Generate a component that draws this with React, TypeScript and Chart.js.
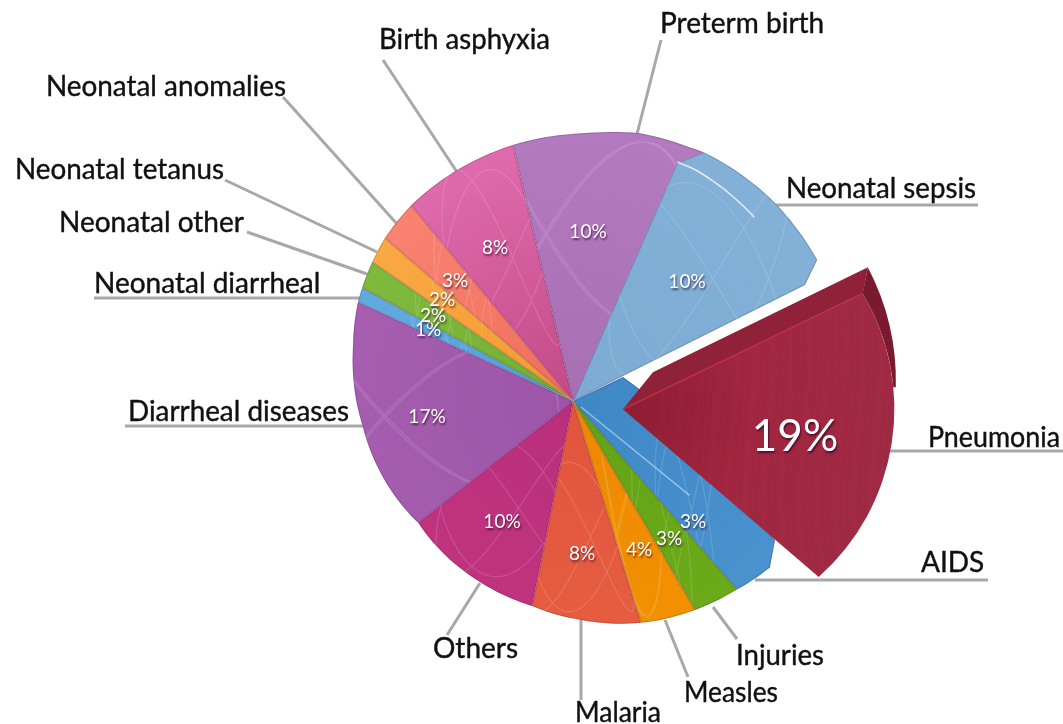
import React, { useEffect, useRef } from "react";
import { Chart, PieController, ArcElement } from "chart.js";

// ---- data ----
const categories = ["AIDS", "Injuries", "Measles", "Malaria", "Others", "Diarrheal diseases", "Neonatal diarrheal", "Neonatal other", "Neonatal tetanus", "Neonatal anomalies", "Birth asphyxia", "Preterm birth", "Neonatal sepsis", "Pneumonia"];
const shares = [3, 3, 4, 8, 10, 17, 1, 2, 2, 3, 8, 10, 10, 19];

// ---- style / layout ----
const innerColours = ["#3f88c6", "#62a214", "#ee8800", "#e2553c", "#b92f7c", "#9c55a8", "#55a0d8", "#74b034", "#f59a32", "#ee6f5c", "#c44a88", "#a86fb4", "#7cabd3", "#8f1d33"];
const outerColours = ["#4a93cf", "#6cab1a", "#f29200", "#e65e42", "#c2357f", "#a85fb2", "#62acdf", "#80bb3e", "#fbaa46", "#fb8472", "#e06cae", "#b47ac0", "#82b0d7", "#a02a44"];
const labelFont = "Lato";
const rotationDeg = 127.9;
const pieCentre = { x: 573, y: 401 };
const sliceOffsets = [0, 0, 0, 0, 0, 0, 0, 0, 0, 0, 0, 0, 0, 50];
// perspective correction (degrees) of the end boundary of each slice
const boundaryWarp = [0.3, 0.2, -0.9, -1.4, 3.1, 4.8, 4.7, 4, 3, 1.7, -0.7, 4.2, 4.5, 0];
// tilted-disc rim: [angle from apex, distance from apex]
const rimProfile: [number, number][] = [[-90, 267], [-84.3, 270], [-76, 276], [-65.7, 279], [-62.3, 281], [-55, 282], [-45, 283], [-30, 282], [40, 258], [50, 249], [59.7, 242], [73, 232], [88, 219], [101.3, 209], [117, 203.5], [141.8, 197], [173.5, 212], [193.8, 226.5], [204.7, 236.7], [220.9, 248.8], [230.4, 254], [256.8, 263], [270, 267]];
const nameLabels = [
  { x: 921, y: 563, w: 66 }, { x: 736, y: 656, w: 88 }, { x: 684, y: 693, w: 94 }, { x: 575, y: 713, w: 86 },
  { x: 433, y: 649, w: 88 }, { x: 128, y: 412, w: 221 }, { x: 94, y: 284, w: 227 }, { x: 59, y: 223, w: 188 },
  { x: 15, y: 170, w: 209 }, { x: 46, y: 87, w: 240 }, { x: 379, y: 40, w: 171 }, { x: 660, y: 24, w: 168 },
  { x: 786, y: 189, w: 190 }, { x: 928, y: 438, w: 132 },
];
const leaders = [
  [988, 580, 755, 580], [737, 639, 713, 607], [688, 677, 665, 620], [581, 700, 581, 618],
  [447, 635, 480, 583], [125, 426, 364, 426], [94, 298, 360, 298], [247, 232, 367, 274],
  [225, 180, 377, 252], [283, 97, 397, 224], [383, 60, 457, 172], [661, 40, 637, 134],
  [978, 205, 772, 205], [1063, 451, 888, 451],
];
const pctLabels = [
  { x: 693, y: 522, s: 19 }, { x: 669, y: 539, s: 19 }, { x: 639, y: 550, s: 19 }, { x: 582, y: 554, s: 19 },
  { x: 502, y: 522, s: 19 }, { x: 427, y: 417, s: 19 }, { x: 428, y: 330, s: 19 }, { x: 433, y: 316, s: 19 },
  { x: 442, y: 300, s: 19 }, { x: 455, y: 281, s: 19 }, { x: 495, y: 248, s: 19 }, { x: 588, y: 232, s: 19 },
  { x: 687, y: 282, s: 19 }, { x: 795, y: 437, s: 44 },
];

const D2R = Math.PI / 180;
function rimAt(deg: number) {
  let t = ((deg + 90) % 360 + 360) % 360 - 90;
  for (let i = 1; i < rimProfile.length; i++) {
    const [a0, r0] = rimProfile[i - 1];
    const [a1, r1] = rimProfile[i];
    if (t <= a1) return r0 + ((r1 - r0) * (t - a0)) / (a1 - a0);
  }
  return rimProfile[rimProfile.length - 1][1];
}
function polar(cx: number, cy: number, deg: number, r: number) {
  return { x: cx + Math.cos(deg * D2R) * r, y: cy + Math.sin(deg * D2R) * r };
}
function traceRim(ctx: CanvasRenderingContext2D, cx: number, cy: number, a: number, b: number) {
  for (let d = a; d < b; d += 1.5) {
    const p = polar(cx, cy, d, rimAt(d));
    ctx.lineTo(p.x, p.y);
  }
  const p = polar(cx, cy, b, rimAt(b));
  ctx.lineTo(p.x, p.y);
}
function scribble(ctx: CanvasRenderingContext2D, cx: number, cy: number, rx: number, ry: number, seed: number) {
  ctx.save();
  ctx.strokeStyle = "rgba(255,255,255,0.13)";
  ctx.lineWidth = 1.3;
  ctx.beginPath();
  for (let k = 0; k <= 400; k++) {
    const t = (k / 400) * Math.PI * 2;
    const x = cx + rx * Math.sin(2 * t + seed);
    const y = cy + ry * Math.sin(3 * t + seed * 0.7);
    if (k === 0) ctx.moveTo(x, y);
    else ctx.lineTo(x, y);
  }
  ctx.stroke();
  ctx.restore();
}

function drawPneumonia(ctx: CanvasRenderingContext2D, arc: any, i: number) {
  const mid = (arc.startAngle + arc.endAngle) / 2;
  const off = sliceOffsets[i];
  const tx = arc.x + Math.cos(mid) * off;
  const ty = arc.y + Math.sin(mid) * off + 5;
  const P = (dx: number, dy: number) => ({ x: tx + dx, y: ty + dy });
  const A = P(240, -116), C = P(196, 168), E = P(245, -142), J = P(271, -22);
  const fc = P(46.5, -0.5), sc = P(28, -28);
  const ang = (c: any, p: any) => Math.atan2(p.y - c.y, p.x - c.x);
  // top wall
  const wall = P(30, -37);
  ctx.beginPath();
  ctx.moveTo(tx, ty);
  ctx.lineTo(wall.x, wall.y);
  ctx.lineTo(E.x, E.y);
  ctx.lineTo(A.x, A.y);
  ctx.closePath();
  ctx.fillStyle = "#8f2238";
  ctx.fill();
  // side wall
  ctx.beginPath();
  ctx.moveTo(E.x, E.y);
  ctx.arc(sc.x, sc.y, 245, ang(sc, E), ang(sc, J), false);
  ctx.arc(fc.x, fc.y, 225, ang(fc, J), ang(fc, A), true);
  ctx.closePath();
  ctx.fillStyle = "#7a1a2e";
  ctx.fill();
  // front face
  ctx.save();
  ctx.beginPath();
  ctx.moveTo(tx, ty);
  ctx.lineTo(A.x, A.y);
  ctx.arc(fc.x, fc.y, 225, ang(fc, A), ang(fc, C), false);
  ctx.closePath();
  const g = ctx.createRadialGradient(tx, ty, 10, tx, ty, 280);
  g.addColorStop(0, innerColours[i]);
  g.addColorStop(0.45, "#a2263f");
  g.addColorStop(1, outerColours[i]);
  ctx.fillStyle = g;
  ctx.fill();
  ctx.clip();
  ctx.lineWidth = 1;
  for (let k = 0; k < 46; k++) {
    ctx.strokeStyle = k % 3 === 0 ? "rgba(255,170,180,0.04)" : "rgba(70,0,20,0.035)";
    ctx.beginPath();
    const x0 = tx + 20 + k * 6;
    ctx.moveTo(x0, ty - 130);
    ctx.bezierCurveTo(x0 + 20, ty, x0 - 30, ty + 80, x0 + 10, ty + 190);
    ctx.stroke();
  }
  ctx.restore();
  // highlight along the top edge of the front face
  ctx.strokeStyle = "rgba(190,45,75,0.9)";
  ctx.lineWidth = 1.6;
  ctx.beginPath();
  ctx.moveTo(tx, ty);
  ctx.lineTo(A.x, A.y);
  ctx.stroke();
}

class PerspectivePie extends PieController {
  static id = "perspectivePie";
  static defaults = PieController.defaults;
  static overrides = PieController.overrides;
  draw() {
    const ctx = this.chart.ctx as CanvasRenderingContext2D;
    const arcs = (this as any)._cachedMeta.data as any[];
    const ends = arcs.map((a, i) => a.endAngle / D2R + boundaryWarp[i]);
    arcs.forEach((arc, i) => {
      if (sliceOffsets[i] > 0) {
        drawPneumonia(ctx, arc, i);
        return;
      }
      const cx = arc.x, cy = arc.y;
      const name = categories[i];
      let a = i === 0 ? arc.startAngle / D2R : ends[i - 1];
      const b = ends[i];
      ctx.save();
      ctx.beginPath();
      ctx.moveTo(cx, cy);
      if (name === "AIDS") {
        // the blue wall that shows behind the pulled-out slice
        [[50, -24], [65, -13], [202, 139], [197, 166]].forEach(([dx, dy]) => ctx.lineTo(cx + dx, cy + dy));
        a = 40.1;
        traceRim(ctx, cx, cy, a, b);
      } else if (name === "Neonatal sepsis") {
        ctx.lineTo(cx + 104, cy - 238);
        traceRim(ctx, cx, cy, 297.7, 330);
        ctx.lineTo(cx + 232, cy - 116);
      } else {
        traceRim(ctx, cx, cy, a, b);
      }
      ctx.closePath();
      const g = ctx.createRadialGradient(cx, cy, 5, cx, cy, 270);
      g.addColorStop(0, innerColours[i]);
      g.addColorStop(1, outerColours[i]);
      ctx.fillStyle = g;
      ctx.fill();
      ctx.clip();
      // darker slice edge, stroked while the slice outline is still the current path
      ctx.strokeStyle = "rgba(60,20,60,0.2)";
      ctx.lineWidth = 2;
      ctx.stroke();
      const m = (a + b) / 2;
      const rr = rimAt(m);
      const c0 = polar(cx, cy, m, rr * 0.62);
      const spread = Math.max(30, (rr * (b - a) * D2R) / 2);
      scribble(ctx, c0.x, c0.y, spread, rr * 0.34, i * 1.3 + 0.4);
      ctx.restore();
      if (name === "Neonatal sepsis") {
        ctx.strokeStyle = "rgba(255,255,255,0.75)";
        ctx.lineWidth = 1.6;
        ctx.beginPath();
        for (let d = 293.6; d <= 315; d += 1.5) {
          const p = polar(cx, cy, d, rimAt(d) - 18 - ((d - 293.6) / 21.4) * 7);
          if (d === 293.6) ctx.moveTo(p.x, p.y);
          else ctx.lineTo(p.x, p.y);
        }
        ctx.stroke();
      }
      if (name === "AIDS") {
        const p = polar(cx, cy, 39, 150);
        ctx.strokeStyle = "rgba(200,230,255,0.6)";
        ctx.lineWidth = 1.4;
        ctx.beginPath();
        ctx.moveTo(cx + 8, cy + 6);
        ctx.lineTo(p.x, p.y);
        ctx.stroke();
      }
    });
  }
}

const leaderAndLabels = {
  id: "leaderAndLabels",
  beforeDatasetsDraw(chart: any) {
    const ctx = chart.ctx as CanvasRenderingContext2D;
    ctx.save();
    ctx.strokeStyle = "#a8a8a8";
    ctx.lineWidth = 3;
    leaders.forEach(([x0, y0, x1, y1]) => {
      ctx.beginPath();
      ctx.moveTo(x0, y0);
      ctx.lineTo(x1, y1);
      ctx.stroke();
    });
    ctx.fillStyle = "#111";
    ctx.strokeStyle = "#111";
    ctx.lineWidth = 0.4;
    ctx.font = `28px ${labelFont}`;
    ctx.textAlign = "left";
    ctx.textBaseline = "middle";
    categories.forEach((c, i) => {
      const l = nameLabels[i];
      ctx.fillText(c, l.x, l.y, l.w);
      ctx.strokeText(c, l.x, l.y, l.w);
    });
    ctx.restore();
  },
  afterDatasetsDraw(chart: any) {
    const ctx = chart.ctx as CanvasRenderingContext2D;
    ctx.save();
    ctx.textAlign = "center";
    ctx.textBaseline = "middle";
    ctx.fillStyle = "#fff";
    shares.forEach((v, i) => {
      const l = pctLabels[i];
      ctx.font = `${l.s}px ${labelFont}`;
      ctx.shadowColor = "rgba(40,0,30,0.65)";
      ctx.shadowBlur = 2;
      ctx.shadowOffsetX = 1;
      ctx.shadowOffsetY = 1.5;
      ctx.fillText(`${v}%`, l.x, l.y);
    });
    ctx.restore();
  },
};

Chart.register(PerspectivePie, ArcElement);

export default function App() {
  const ref = useRef<HTMLCanvasElement>(null);
  useEffect(() => {
    if (!ref.current) return;
    const chart = new Chart(ref.current, {
      type: "perspectivePie" as any,
      data: {
        labels: categories,
        datasets: [{ data: shares, backgroundColor: outerColours, offset: sliceOffsets, borderWidth: 0 } as any],
      },
      options: {
        animation: false,
        responsive: false,
        devicePixelRatio: 1,
        rotation: rotationDeg,
        radius: 240,
        layout: { padding: { left: 2 * pieCentre.x - 1063, top: 2 * pieCentre.y - 724 } },
        plugins: { legend: { display: false }, tooltip: { enabled: false } },
      } as any,
      plugins: [leaderAndLabels],
    });
    return () => chart.destroy();
  }, []);
  return (
    <div style={{ position: "absolute", left: 0, top: 0, width: 1063, height: 724, background: "#fff" }}>
      <canvas ref={ref} width={1063} height={724} style={{ display: "block" }} />
    </div>
  );
}
